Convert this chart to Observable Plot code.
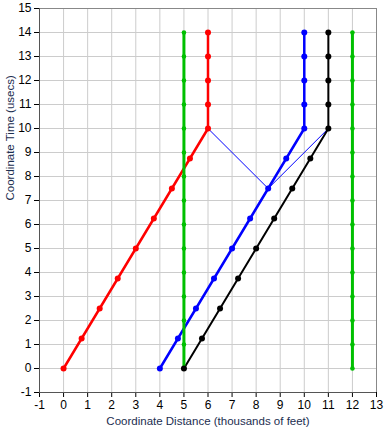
<!DOCTYPE html>
<html>
<head>
<meta charset="utf-8">
<script src="https://cdn.jsdelivr.net/npm/d3@7"></script>
<script src="https://cdn.jsdelivr.net/npm/@observablehq/plot@0.6"></script>
<style>
  html, body { margin: 0; padding: 0; background: #fff; }
  #chart svg { display: block; }
</style>
</head>
<body>
<div id="chart"></div>
<script>
// Coordinate time (usecs) sampled along the worldlines
const times = [0, 1.25, 2.5, 3.75, 5, 6.25, 7.5, 8.75, 10, 11, 12, 13, 14];
// Coordinate distance (thousands of feet) for each moving worldline
const redX   = [0, 0.75, 1.5, 2.25, 3, 3.75, 4.5, 5.25, 6, 6, 6, 6, 6];
const blueX  = [4, 4.75, 5.5, 6.25, 7, 7.75, 8.5, 9.25, 10, 10, 10, 10, 10];
const blackX = [5, 5.75, 6.5, 7.25, 8, 8.75, 9.5, 10.25, 11, 11, 11, 11, 11];
// Stationary (green) worldlines
const greenTimes = [0, 1, 2, 3, 4, 5, 6, 7, 8, 9, 10, 11, 12, 13, 14];
const greenLeftX = 5;
const greenRightX = 12;
// Light signal path (thin blue)
const photonX = [6, 8.5, 11];
const photonY = [10, 7.5, 10];
// Axis ticks
const xTicks = [-1, 0, 1, 2, 3, 4, 5, 6, 7, 8, 9, 10, 11, 12, 13];
const yTicks = [-1, 0, 1, 2, 3, 4, 5, 6, 7, 8, 9, 10, 11, 12, 13, 14, 15];

const red = times.map((t, i) => ({x: redX[i], y: t}));
const blue = times.map((t, i) => ({x: blueX[i], y: t}));
const black = times.map((t, i) => ({x: blackX[i], y: t}));
const greenL = greenTimes.map(t => ({x: greenLeftX, y: t}));
const greenR = greenTimes.map(t => ({x: greenRightX, y: t}));
const photon = photonX.map((x, i) => ({x, y: photonY[i]}));

const GREEN = "#00c000";
const labelColor = "#1c2e50";

const chart = Plot.plot({
  width: 386,
  height: 431,
  marginLeft: 39,
  marginRight: 10,
  marginTop: 8,
  marginBottom: 39,
  style: {fontFamily: "'Liberation Sans', Arial, sans-serif", fontSize: "11px", color: "#000", background: "#fff"},
  x: {domain: [-1, 13]},
  y: {domain: [-1, 15]},
  marks: [
    Plot.gridX(xTicks, {stroke: "#cccccc", strokeOpacity: 1}),
    Plot.gridY(yTicks, {stroke: "#cccccc", strokeOpacity: 1}),
    Plot.ruleY([15], {stroke: "#888", strokeWidth: 1}),
    Plot.ruleX([13], {stroke: "#888", strokeWidth: 1}),
    Plot.axisX({ticks: xTicks, tickSize: 5, tickPadding: 3, tickFormat: d => String(d), label: null, fontSize: 12}),
    Plot.axisY({ticks: yTicks, tickSize: 5, tickPadding: 3, tickFormat: d => String(d), label: null, fontSize: 12}),
    Plot.ruleX([-1], {stroke: "#555"}),
    Plot.ruleY([-1], {stroke: "#555"}),
    Plot.line(photon, {x: "x", y: "y", stroke: "#0000ff", strokeWidth: 1}),
    Plot.line(red, {x: "x", y: "y", stroke: "#ff0000", strokeWidth: 2.5}),
    Plot.line(blue, {x: "x", y: "y", stroke: "#0000ff", strokeWidth: 2.5}),
    Plot.line(black, {x: "x", y: "y", stroke: "#000000", strokeWidth: 2}),
    Plot.line(greenL, {x: "x", y: "y", stroke: GREEN, strokeWidth: 3}),
    Plot.line(greenR, {x: "x", y: "y", stroke: GREEN, strokeWidth: 3}),
    Plot.dot(greenL, {x: "x", y: "y", r: 2.3, fill: GREEN}),
    Plot.dot(greenR, {x: "x", y: "y", r: 2.3, fill: GREEN}),
    Plot.dot(red, {x: "x", y: "y", r: 3, fill: "#ff0000"}),
    Plot.dot(blue, {x: "x", y: "y", r: 3, fill: "#0000ff"}),
    Plot.dot(black, {x: "x", y: "y", r: 3, fill: "#000000"}),
    Plot.text(["Coordinate Distance (thousands of feet)"], {frameAnchor: "bottom", dy: 32, fill: labelColor, fontSize: 11.5}),
    Plot.text(["Coordinate Time (usecs)"], {frameAnchor: "left", dx: -29, rotate: -90, fill: labelColor, fontSize: 11.5})
  ]
});
document.getElementById("chart").appendChild(chart);
</script>
</body>
</html>
